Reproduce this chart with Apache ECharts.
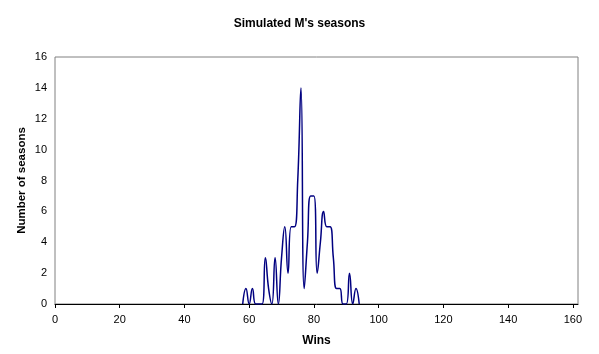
<!DOCTYPE html>
<html>
<head>
<meta charset="utf-8">
<title>Simulated M's seasons</title>
<script src="https://cdn.jsdelivr.net/npm/echarts@6/dist/echarts.min.js"></script>
<style>
  html, body { margin: 0; padding: 0; background: #fff; }
  #chart { width: 599px; height: 354px; }
</style>
</head>
<body>
<div id="chart"></div>
<script>
  // wins per simulated season, counts (100 seasons)
  const wins = [58, 59, 60, 61, 62, 63, 64, 65, 66, 67, 68, 69, 70, 71, 72, 73, 74, 75, 76,
    77, 78, 79, 80, 81, 82, 83, 84, 85, 86, 87, 88, 89, 90, 91, 92, 93, 94]
  const seasons = [0, 1, 0, 1, 0, 0, 0, 3, 1, 0, 3, 0, 3, 5, 2, 5, 5, 8, 14,
    1, 4, 7, 7, 2, 4, 6, 5, 5, 3, 1, 1, 0, 0, 2, 0, 1, 0]
  const xTicks = [0, 20, 40, 60, 80, 100, 120, 140, 160]
  const yTicks = [0, 2, 4, 6, 8, 10, 12, 14, 16]

  const font = 'Liberation Sans, Arial, sans-serif'
  const chart = echarts.init(document.getElementById('chart'))

  chart.setOption({
    animation: false,
    backgroundColor: '#fff',
    title: {
      text: "Simulated M's seasons",
      left: 'center',
      top: 13,
      textStyle: { fontFamily: font, fontSize: 12, fontWeight: 'bold', color: '#000' }
    },
    grid: {
      left: 55,
      right: 21,
      top: 57,
      bottom: 50,
      show: true,
      borderColor: '#808080',
      borderWidth: 1
    },
    xAxis: {
      type: 'value',
      min: 0,
      max: 161.6,
      interval: 20,
      name: 'Wins',
      nameLocation: 'middle',
      nameGap: 31,
      nameTextStyle: { fontFamily: font, fontSize: 12, fontWeight: 'bold', color: '#000' },
      axisLine: { show: true, onZero: false, lineStyle: { color: '#000', width: 1 } },
      axisTick: { show: true, length: 4, customValues: xTicks, lineStyle: { color: '#000' } },
      axisLabel: { customValues: xTicks, margin: 10, fontFamily: font, fontSize: 11, color: '#000' },
      splitLine: { show: false }
    },
    yAxis: {
      type: 'value',
      min: 0,
      max: 16,
      interval: 2,
      name: 'Number of seasons',
      nameLocation: 'middle',
      nameGap: 27,
      nameMoveOverlap: false,
      nameTextStyle: { fontFamily: font, fontSize: 11.5, fontWeight: 'bold', color: '#000' },
      axisLine: { show: false },
      axisTick: { show: false },
      axisLabel: { customValues: yTicks, margin: 8, fontFamily: font, fontSize: 11, color: '#000' },
      splitLine: { show: false }
    },
    series: [{
      type: 'line',
      data: wins.map((w, i) => [w, seasons[i]]),
      smooth: 0.5,
      showSymbol: false,
      lineStyle: { color: '#000080', width: 1.5 },
      itemStyle: { color: '#000080' }
    }]
  })
</script>
</body>
</html>
